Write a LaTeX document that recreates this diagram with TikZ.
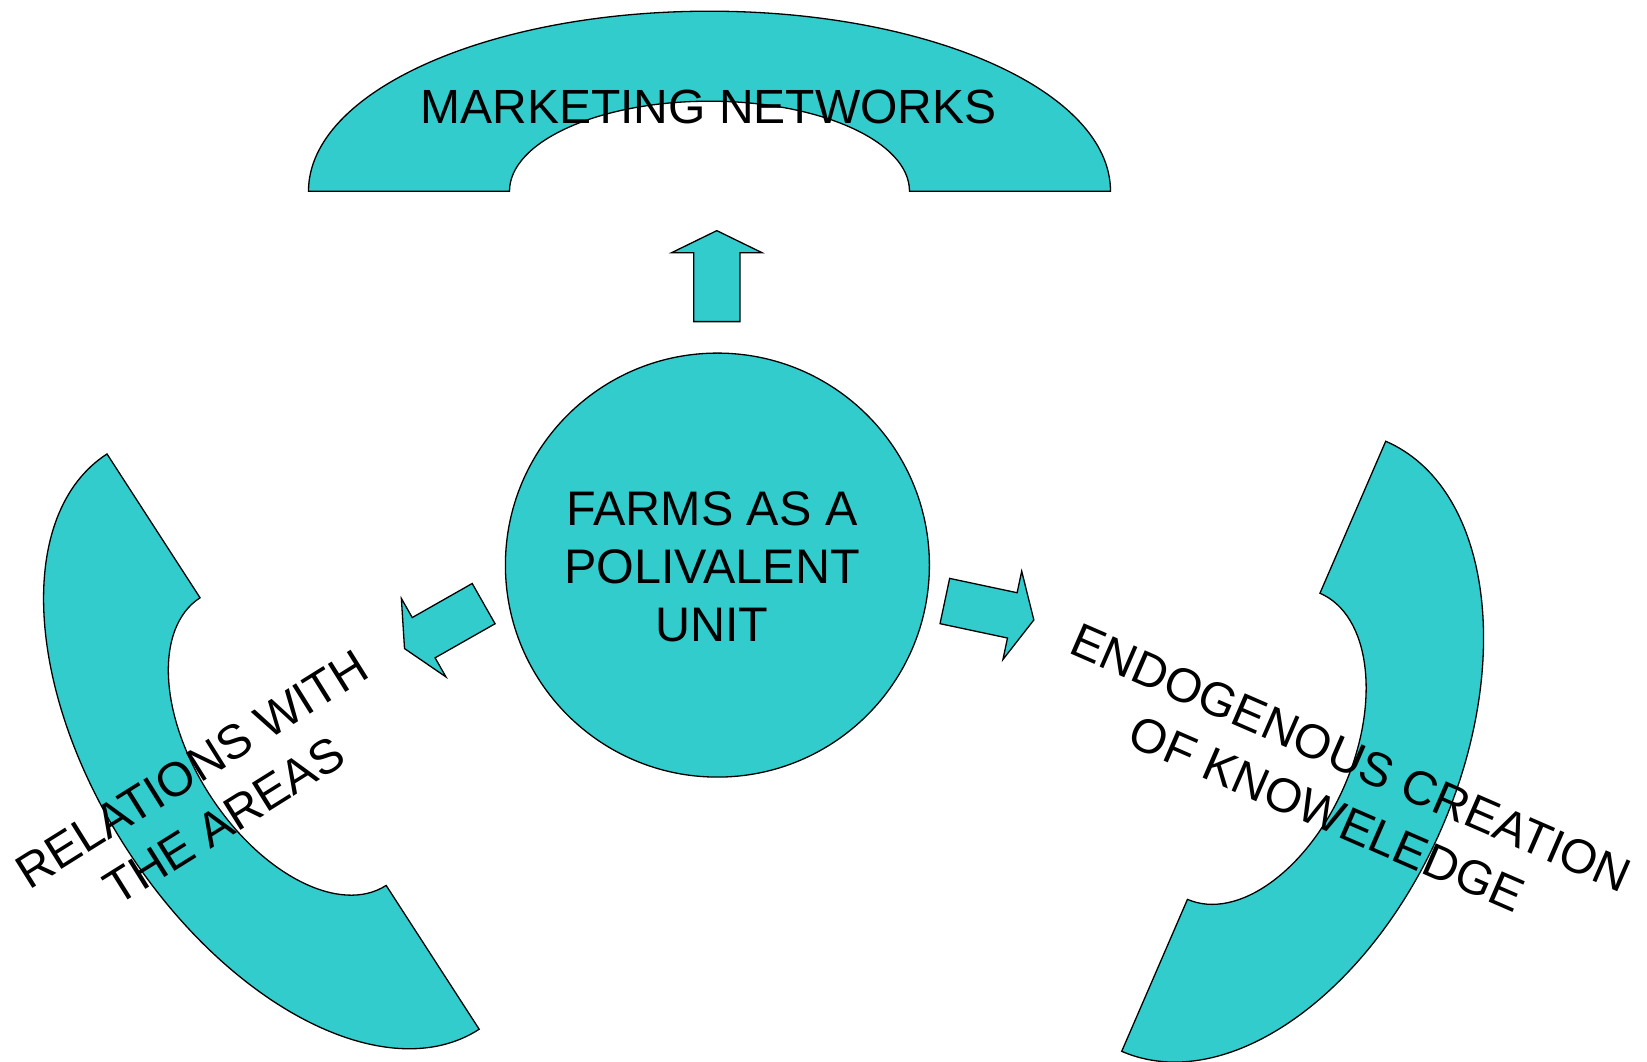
\documentclass[tikz,border=0pt]{standalone}
\usepackage{fontspec}
\setmainfont{Liberation Sans}
\usetikzlibrary{shapes.arrows}
\definecolor{blockteal}{HTML}{33CCCC}

\begin{document}
\begin{tikzpicture}[x=1pt,y=1pt]
        \tikzset{block/.style = {fill=blockteal, draw=black, line width=1.3pt}}
        \tikzset{hub/.style = {shape=circle, block, minimum size=424pt, inner sep=0pt}}
        \tikzset{txt/.style = {font=\fontsize{48}{61}\selectfont, align=center, inner sep=0pt}}
        \tikzset{push/.style = {shape=single arrow, block, minimum height=91pt,
                inner xsep=0pt, inner ysep=22.5pt, single arrow head extend=22pt,
                single arrow tip angle=128, anchor=tail}}

        \useasboundingbox (0,0) rectangle (1647,1061);

        % block arcs
        \draw[block, shift={(709.5,869.8)}]
                (-401,0) arc[start angle=180, end angle=0, x radius=401, y radius=180]
                -- (200,0) arc[start angle=0, end angle=180, x radius=200, y radius=90]
                -- cycle;
        \draw[block, shift={(293.1,319.4)}, rotate=122.9]
                (-342.6,0) arc[start angle=180, end angle=0, x radius=342.6, y radius=198]
                -- (171.3,0) arc[start angle=0, end angle=180, x radius=171.3, y radius=99]
                -- cycle;
        \draw[block, shift={(1253.7,314.7)}, rotate=-113.4]
                (-332.4,0) arc[start angle=180, end angle=0, x radius=332.4, y radius=205]
                -- (166.8,0) arc[start angle=0, end angle=180, x radius=166.8, y radius=99]
                -- cycle;

        \node[hub] (farm) at (717.4,495.9) {};
        \node[txt, font=\fontsize{48.5}{58}\selectfont] (farmtext) at (712,494)
                {FARMS AS A\\POLIVALENT\\UNIT};

        \node[push, rotate=90] (toMarket) at (716.8,738.7) {};
        \node[push, rotate=209.6] (toAreas) at (484.2,457.7) {};
        \node[push, rotate=-12] (toKnow) at (944.2,460.1) {};

        \node[txt] (market) at (708.5,954) {MARKETING NETWORKS};
        \node[txt, rotate=32] (relations) at (208,266) {RELATIONS WITH\\THE AREAS};
        \node[txt, rotate=-23.5] (knowledge) at (1339,275)
                {ENDOGENOUS CREATION\\OF KNOWELEDGE};
    \end{tikzpicture}
\end{document}
